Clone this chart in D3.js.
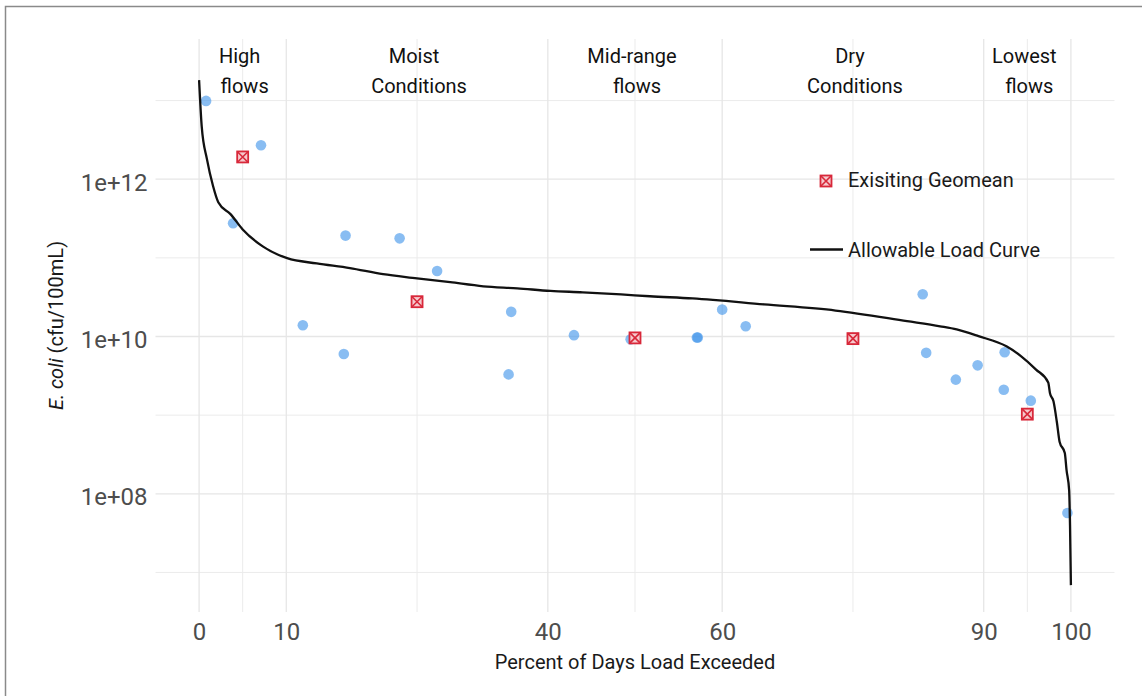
<!DOCTYPE html>
<html>
<head>
<meta charset="utf-8">
<script src="https://cdn.jsdelivr.net/npm/d3@7"></script>
<style>
  body { margin: 0; background: #fff; }
  text { font-family: Roboto, "Liberation Sans", sans-serif; }
</style>
</head>
<body>
<div id="chart"></div>
<script>
// flow duration zones
var zoneCenters = [5, 25, 50, 75, 95];
var zoneTop = ["High", "Moist", "Mid-range", "Dry", "Lowest"];
var zoneBottom = ["flows", "Conditions", "flows", "Conditions", "flows"];

// allowable load curve (percent of days exceeded, load)
var curvePct = [0, 0.3, 0.9, 1.6, 2.2, 3.6, 5.0, 7.3, 10.1, 13.5, 17.3, 21.1, 25.0, 28.8, 32.6, 36.5,
    40.3, 44.0, 48.4, 51.7, 56.6, 64.8, 73.0, 81.2, 85.0, 86.9, 89.4, 92.6, 94.3, 96.0, 97.4,
    97.6, 98.0, 98.4, 98.7, 99.3, 99.5, 99.8, 99.9, 100];
var curveLoad = [1.82e13, 4.7e12, 1.8e12, 8.2e11, 5.1e11, 3.6e11, 2.3e11, 1.4e11, 9.9e10, 8.5e10, 7.4e10,
    6.2e10, 5.5e10, 4.9e10, 4.35e10, 4.1e10, 3.8e10, 3.65e10, 3.43e10, 3.25e10, 3.05e10, 2.56e10,
    2.14e10, 1.57e10, 1.35e10, 1.23e10, 1.01e10, 7.5e9, 5.6e9, 3.8e9, 2.6e9, 1.9e9, 1.5e9, 8e8,
    4.6e8, 3.3e8, 2.0e8, 1.1e8, 3.8e7, 6.9e6];

// observed samples
var samplePct = [0.8, 7.1, 3.9, 16.8, 23.0, 27.3, 11.9, 16.6, 35.8, 35.5, 43.0, 49.5, 57.1, 57.2,
    60.0, 62.7, 83.0, 83.4, 86.8, 89.3, 92.4, 92.3, 95.4, 99.6];
var sampleLoad = [9.9e12, 2.7e12, 2.75e11, 1.92e11, 1.77e11, 6.8e10, 1.39e10, 6.0e9, 2.06e10, 3.3e9,
    1.04e10, 9.2e9, 9.7e9, 9.7e9, 2.2e10, 1.35e10, 3.45e10, 6.2e9, 2.83e9, 4.3e9, 6.3e9, 2.1e9,
    1.53e9, 5.7e7];

// existing geomean per zone
var geoPct = [5, 25, 50, 75, 95];
var geoLoad = [1.92e12, 2.77e10, 9.6e9, 9.4e9, 1.03e9];

var xTicks = [0, 10, 40, 60, 90, 100];
var xMinor = [5, 25, 50, 75, 95];
var yTicks = [1e8, 1e10, 1e12];
var yMinor = [1e7, 1e9, 1e11, 1e13];

var svgWidth = 1142;
var svgHeight = 696;
var panel = { left: 155.5, right: 1114.5, top: 39, bottom: 612 };

var svg = d3.select("#chart")
    .append("svg")
    .attr("width", svgWidth)
    .attr("height", svgHeight);

svg.append("rect")
    .attr("width", svgWidth)
    .attr("height", svgHeight)
    .attr("fill", "#fff");

// frame of the screenshot (only top and left edges show)
svg.append("path")
    .attr("d", "M5.5,700V6.5H1150")
    .attr("fill", "none")
    .attr("stroke", "#8a8a8a")
    .attr("stroke-width", 1.5);

var xScale = d3.scaleLinear()
    .domain([-5, 105])
    .range([panel.left, panel.right]);

var yScale = d3.scaleLog()
    .domain([Math.pow(10, 6.497), Math.pow(10, 13.783)])
    .range([panel.bottom, panel.top]);

var grid = svg.append("g");

grid.selectAll(".ymin")
    .data(yMinor)
    .enter()
    .append("line")
    .attr("x1", panel.left).attr("x2", panel.right)
    .attr("y1", d => yScale(d)).attr("y2", d => yScale(d))
    .attr("stroke", "#ebebeb").attr("stroke-width", 1);

grid.selectAll(".xmin")
    .data(xMinor)
    .enter()
    .append("line")
    .attr("x1", d => xScale(d)).attr("x2", d => xScale(d))
    .attr("y1", panel.top).attr("y2", panel.bottom)
    .attr("stroke", "#ebebeb").attr("stroke-width", 1);

grid.selectAll(".ymaj")
    .data(yTicks)
    .enter()
    .append("line")
    .attr("x1", panel.left).attr("x2", panel.right)
    .attr("y1", d => yScale(d)).attr("y2", d => yScale(d))
    .attr("stroke", "#e6e6e6").attr("stroke-width", 1.3);

grid.selectAll(".xmaj")
    .data(xTicks)
    .enter()
    .append("line")
    .attr("x1", d => xScale(d)).attr("x2", d => xScale(d))
    .attr("y1", panel.top).attr("y2", panel.bottom)
    .attr("stroke", "#e6e6e6").attr("stroke-width", 1.3);

// axes
var bottomAxis = d3.axisBottom(xScale)
    .tickValues(xTicks)
    .tickSize(0)
    .tickPadding(11);

var leftAxis = d3.axisLeft(yScale)
    .tickValues(yTicks)
    .tickSize(0)
    .tickPadding(8)
    .tickFormat(d => "1e+" + String(Math.round(Math.log10(d))).padStart(2, "0"));

svg.append("g")
    .attr("transform", `translate(0, ${panel.bottom})`)
    .call(bottomAxis)
    .call(g => g.select(".domain").remove())
    .selectAll("text")
    .attr("font-family", "Roboto")
    .attr("font-size", "24px")
    .attr("fill", "#4d4d4d");

svg.append("g")
    .attr("transform", `translate(${panel.left}, 0)`)
    .call(leftAxis)
    .call(g => g.select(".domain").remove())
    .selectAll("text")
    .attr("dy", "0.45em")
    .attr("font-family", "Roboto")
    .attr("font-size", "24px")
    .attr("fill", "#4d4d4d");

// samples
svg.append("g")
    .selectAll("circle")
    .data(samplePct)
    .enter()
    .append("circle")
    .attr("cx", d => xScale(d))
    .attr("cy", (d, i) => yScale(sampleLoad[i]))
    .attr("r", 5.3)
    .attr("fill", "#4194ea")
    .attr("opacity", 0.62);

// load curve
var line = d3.line()
    .curve(d3.curveMonotoneX)
    .x(d => xScale(d[0]))
    .y(d => yScale(d[1]));

svg.append("path")
    .datum(d3.zip(curvePct, curveLoad))
    .attr("d", line)
    .attr("fill", "none")
    .attr("stroke", "#111")
    .attr("stroke-width", 2.3)
    .attr("stroke-linejoin", "round");

// crossed square marker
function crossSquare(g, cx, cy) {
    var h = 5.5;
    g.append("rect")
        .attr("x", cx - h).attr("y", cy - h)
        .attr("width", 2 * h).attr("height", 2 * h)
        .attr("fill", "#f6c9cd")
        .attr("stroke", "#d8283a")
        .attr("stroke-width", 1.8);
    g.append("path")
        .attr("d", `M${cx - h},${cy - h}L${cx + h},${cy + h}M${cx - h},${cy + h}L${cx + h},${cy - h}`)
        .attr("stroke", "#d8283a")
        .attr("stroke-width", 1.6);
}

var geoGroup = svg.append("g");
geoPct.forEach(function (d, i) {
    crossSquare(geoGroup, xScale(d), yScale(geoLoad[i]));
});

// zone annotations
var zones = svg.append("g")
    .attr("font-size", "20px")
    .attr("fill", "#111")
    .attr("text-anchor", "middle");

zones.selectAll(".z1")
    .data(zoneCenters)
    .enter()
    .append("text")
    .attr("x", d => xScale(d) - 3)
    .attr("y", 63)
    .attr("font-family", "Liberation Sans, Arial, sans-serif")
    .text((d, i) => zoneTop[i]);

zones.selectAll(".z2")
    .data(zoneCenters)
    .enter()
    .append("text")
    .attr("x", d => xScale(d) + 2)
    .attr("y", 92.5)
    .attr("font-family", "Liberation Sans, Arial, sans-serif")
    .text((d, i) => zoneBottom[i]);

// legend
var legend = svg.append("g")
    .attr("font-size", "20px")
    .attr("fill", "#1a1a1a");

crossSquare(legend, 826, 181);
legend.append("text")
    .attr("x", 848)
    .attr("y", 187)
    .text("Exisiting Geomean");

legend.append("line")
    .attr("x1", 810).attr("x2", 843)
    .attr("y1", 249.5).attr("y2", 249.5)
    .attr("stroke", "#111")
    .attr("stroke-width", 2.3);
legend.append("text")
    .attr("x", 848)
    .attr("y", 257)
    .text("Allowable Load Curve");

// axis titles
svg.append("text")
    .attr("x", (panel.left + panel.right) / 2)
    .attr("y", 669)
    .attr("text-anchor", "middle")
    .attr("font-size", "20px")
    .attr("fill", "#1a1a1a")
    .text("Percent of Days Load Exceeded");

var yTitle = svg.append("text")
    .attr("transform", `translate(63, ${(panel.top + panel.bottom) / 2}) rotate(-90)`)
    .attr("text-anchor", "middle")
    .attr("font-size", "20px")
    .attr("fill", "#1a1a1a");
yTitle.append("tspan").attr("font-style", "italic").text("E. coli");
yTitle.append("tspan").text(" (cfu/100mL)");
</script>
</body>
</html>
